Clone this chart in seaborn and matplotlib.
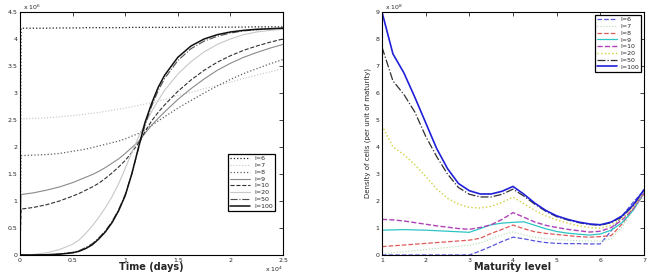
import matplotlib
matplotlib.use('Agg')
import matplotlib.pyplot as plt
import seaborn as sns
from matplotlib.ticker import FuncFormatter

# ---- left panel: population vs time (values in units of 1e6) ----
time_days = [0, 100, 1250, 2500, 3750, 5000, 5625, 6250, 6875, 7500, 8125, 8750,
             9375, 10000, 10625, 11250, 11875, 12500, 13125, 13750, 15000, 16250,
             17500, 18750, 20000, 21250, 22500, 23750, 25000]
pop_i6 = [0, 4.20, 4.20, 4.20, 4.205, 4.205, 4.205, 4.21, 4.21, 4.21, 4.21, 4.21,
          4.21, 4.21, 4.215, 4.215, 4.215, 4.215, 4.215, 4.215, 4.215, 4.22,
          4.22, 4.22, 4.22, 4.22, 4.225, 4.225, 4.225]
pop_i7 = [0, 2.52, 2.53, 2.54, 2.56, 2.58, 2.595, 2.61, 2.625, 2.64, 2.66, 2.68,
          2.70, 2.72, 2.745, 2.77, 2.795, 2.82, 2.85, 2.88, 2.95, 3.01,
          3.08, 3.14, 3.20, 3.27, 3.33, 3.39, 3.45]
pop_i8 = [0, 1.84, 1.85, 1.86, 1.88, 1.92, 1.94, 1.96, 1.99, 2.02, 2.05, 2.08,
          2.11, 2.15, 2.20, 2.25, 2.32, 2.40, 2.48, 2.56, 2.72, 2.86,
          3.00, 3.13, 3.25, 3.36, 3.45, 3.54, 3.62]
pop_i9 = [0, 1.12, 1.15, 1.20, 1.26, 1.34, 1.39, 1.44, 1.49, 1.55, 1.62, 1.70,
          1.78, 1.88, 1.99, 2.10, 2.25, 2.40, 2.53, 2.65, 2.88, 3.08,
          3.26, 3.42, 3.55, 3.66, 3.75, 3.83, 3.90]
pop_i10 = [0, 0.85, 0.88, 0.93, 1.00, 1.09, 1.14, 1.20, 1.26, 1.33, 1.42, 1.52,
           1.63, 1.75, 1.90, 2.07, 2.28, 2.48, 2.64, 2.78, 3.03, 3.24,
           3.42, 3.57, 3.69, 3.79, 3.87, 3.94, 4.00]
pop_i20 = [0, 0, 0.01, 0.04, 0.10, 0.20, 0.28, 0.40, 0.54, 0.70, 0.88, 1.08,
           1.32, 1.60, 1.90, 2.18, 2.43, 2.65, 2.86, 3.05, 3.35, 3.58,
           3.76, 3.90, 4.00, 4.08, 4.13, 4.16, 4.18]
pop_i50 = [0, 0, 0, 0.005, 0.02, 0.05, 0.08, 0.14, 0.21, 0.32, 0.45, 0.62,
           0.84, 1.12, 1.50, 1.96, 2.40, 2.75, 3.04, 3.27, 3.60, 3.82,
           3.96, 4.05, 4.11, 4.15, 4.17, 4.19, 4.20]
pop_i100 = [0, 0, 0, 0.005, 0.015, 0.04, 0.07, 0.12, 0.19, 0.30, 0.43, 0.60,
            0.82, 1.10, 1.50, 1.98, 2.45, 2.80, 3.10, 3.33, 3.66, 3.87,
            4.00, 4.08, 4.13, 4.16, 4.18, 4.19, 4.20]

# ---- right panel: density vs maturity level (values in units of 1e8) ----
maturity = [1, 1.25, 1.5, 1.75, 2, 2.25, 2.5, 2.75, 3, 3.25, 3.5, 3.75, 4,
            4.25, 4.5, 4.75, 5, 5.25, 5.5, 5.75, 6, 6.25, 6.5, 6.75, 7]
dens_i6 = [0, 0, 0, 0, 0, 0, 0, 0, 0, 0.15, 0.32, 0.50, 0.66,
           0.60, 0.52, 0.46, 0.43, 0.42, 0.42, 0.41, 0.41, 0.90, 1.45, 1.95, 2.38]
dens_i7 = [0.05, 0.08, 0.12, 0.16, 0.20, 0.24, 0.28, 0.32, 0.36, 0.45, 0.60, 0.75, 0.85,
           0.75, 0.65, 0.60, 0.57, 0.55, 0.53, 0.52, 0.52, 0.60, 1.05, 1.65, 2.28]
dens_i8 = [0.31, 0.34, 0.37, 0.40, 0.43, 0.46, 0.49, 0.52, 0.55, 0.62, 0.80, 0.95, 1.11,
           0.97, 0.86, 0.80, 0.76, 0.72, 0.68, 0.66, 0.68, 0.72, 1.15, 1.70, 2.25]
dens_i9 = [0.92, 0.93, 0.94, 0.93, 0.92, 0.90, 0.88, 0.86, 0.84, 0.98, 1.12, 1.18, 1.21,
           1.23, 1.10, 0.97, 0.87, 0.81, 0.77, 0.74, 0.78, 0.92, 1.20, 1.65, 2.30]
dens_i10 = [1.32, 1.30, 1.26, 1.20, 1.14, 1.08, 1.03, 0.98, 0.95, 1.02, 1.12, 1.32, 1.57,
            1.40, 1.22, 1.10, 1.02, 0.95, 0.90, 0.85, 0.88, 1.02, 1.30, 1.70, 2.30]
dens_i20 = [4.80, 4.00, 3.72, 3.35, 2.91, 2.45, 2.10, 1.88, 1.76, 1.74, 1.80, 1.95, 2.14,
            1.90, 1.65, 1.45, 1.30, 1.18, 1.08, 1.02, 0.99, 1.10, 1.35, 1.75, 2.30]
dens_i50 = [7.70, 6.45, 5.95, 5.30, 4.40, 3.65, 3.00, 2.50, 2.25, 2.15, 2.15, 2.25, 2.44,
            2.18, 1.88, 1.62, 1.42, 1.30, 1.20, 1.13, 1.10, 1.20, 1.42, 1.82, 2.40]
dens_i100 = [9.00, 7.45, 6.75, 5.85, 4.90, 3.95, 3.20, 2.65, 2.38, 2.26, 2.26, 2.36, 2.54,
             2.25, 1.92, 1.65, 1.45, 1.32, 1.22, 1.15, 1.12, 1.22, 1.45, 1.85, 2.42]

labels = ['I=6', 'I=7', 'I=8', 'I=9', 'I=10', 'I=20', 'I=50', 'I=100']

sns.set_style('white')
plt.rcParams['font.family'] = ['DejaVu Sans']

fig = plt.figure(figsize=(6.51, 2.75), dpi=100)
ax1 = fig.add_axes([20/651, 20/275, 263/651, 243/275])
ax2 = fig.add_axes([382/651, 20/275, 262/651, 243/275])

# left panel, grey MATLAB-like styles
left_series = [pop_i6, pop_i7, pop_i8, pop_i9, pop_i10, pop_i20, pop_i50, pop_i100]
left_styles = [('#202020', ':', 0.9), ('#c4c4c4', ':', 0.8), ('#606060', ':', 0.9),
               ('#8a8a8a', '-', 0.8), ('#303030', '--', 0.8), ('#c8c8c8', '-', 0.8),
               ('#505050', '-.', 0.8), ('#101010', '-', 1.1)]
for vals, lab, (c, ls, lw) in zip(left_series, labels, left_styles):
    sns.lineplot(x=time_days, y=vals, ax=ax1, color=c, linestyle=ls, linewidth=lw, label=lab)

ax1.set_xlim(0, 25000)
ax1.set_ylim(0, 4.5)
ax1.set_xticks([0, 5000, 10000, 15000, 20000, 25000])
ax1.set_yticks([0, 0.5, 1, 1.5, 2, 2.5, 3, 3.5, 4, 4.5])
ax1.xaxis.set_major_formatter(FuncFormatter(lambda v, p: '%g' % (v / 1e4)))
ax1.yaxis.set_major_formatter(FuncFormatter(lambda v, p: '%g' % v))
ax1.set_xlabel('Time (days)', fontsize=7, fontweight='bold', labelpad=-0.5)
ax1.set_ylabel('')
ax1.text(0.01, 1.0, r'x 10$^{6}$', transform=ax1.transAxes, fontsize=4.5, va='bottom', ha='left')
ax1.text(1.0, -0.04, r'x 10$^{4}$', transform=ax1.transAxes, fontsize=4.5, va='top', ha='right')
leg1 = ax1.legend(loc='lower right', bbox_to_anchor=(0.98, 0.17), fontsize=4.5,
                  frameon=True, fancybox=False, edgecolor='black', framealpha=1,
                  handlelength=3.2, labelspacing=0.22, borderpad=0.3, handletextpad=0.6)
leg1.get_frame().set_linewidth(0.9)

# right panel, MATLAB default colours
right_series = [dens_i6, dens_i7, dens_i8, dens_i9, dens_i10, dens_i20, dens_i50, dens_i100]
right_styles = [('#5555dd', '--', 0.9), ('#b0dcb0', ':', 0.8), ('#e05a5a', '--', 0.9),
                ('#2ec4c4', '-', 0.9), ('#b040b8', '--', 1.0), ('#d0d040', ':', 1.0),
                ('#303030', '-.', 0.9), ('#2020d8', '-', 1.2)]
for vals, lab, (c, ls, lw) in zip(right_series, labels, right_styles):
    sns.lineplot(x=maturity, y=vals, ax=ax2, color=c, linestyle=ls, linewidth=lw, label=lab)

ax2.set_xlim(1, 7)
ax2.set_ylim(0, 9)
ax2.set_xticks(range(1, 8))
ax2.set_yticks(range(0, 10))
ax2.set_xlabel('Maturity level', fontsize=7, fontweight='bold', labelpad=-0.5)
ax2.set_ylabel('Density of cells (per unit of maturity)', fontsize=5, labelpad=3)
ax2.text(0.01, 1.0, r'x 10$^{8}$', transform=ax2.transAxes, fontsize=4.5, va='bottom', ha='left')
leg2 = ax2.legend(loc='upper right', bbox_to_anchor=(1.0, 1.0), fontsize=4.5,
                  frameon=True, fancybox=False, edgecolor='black', framealpha=1,
                  handlelength=3.2, labelspacing=0.22, borderpad=0.3, handletextpad=0.6)
leg2.get_frame().set_linewidth(0.9)

for ax in (ax1, ax2):
    ax.tick_params(direction='in', top=True, right=True, length=3, width=0.6,
                   labelsize=4.5, pad=2)
    for sp in ax.spines.values():
        sp.set_visible(True)
        sp.set_color('black')
        sp.set_linewidth(0.8)

fig.savefig('out.png', dpi=100)
